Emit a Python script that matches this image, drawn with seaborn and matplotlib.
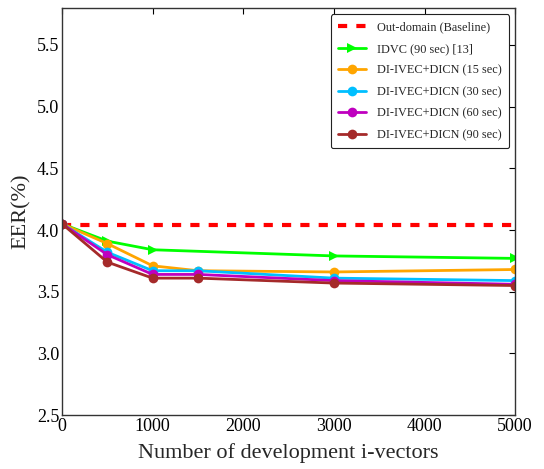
import matplotlib
matplotlib.use("Agg")
import matplotlib.pyplot as plt
import seaborn as sns
import pandas as pd

sns.set_theme(style="white")
plt.rcParams['font.family'] = ['Liberation Serif', 'DejaVu Serif']
plt.rcParams['mathtext.fontset'] = 'stix'

x_vals = [0, 500, 1000, 1500, 3000, 5000]
x_idvc = [0, 500, 1000, 3000, 5000]
baseline_x = [0, 5000]
baseline = [4.04, 4.04]
idvc_90 = [4.05, 3.91, 3.84, 3.79, 3.77]
dicn_15 = [4.05, 3.89, 3.71, 3.67, 3.66, 3.68]
dicn_30 = [4.05, 3.82, 3.67, 3.67, 3.61, 3.59]
dicn_60 = [4.05, 3.80, 3.64, 3.64, 3.59, 3.56]
dicn_90 = [4.05, 3.74, 3.61, 3.61, 3.57, 3.55]

labels = ["Out-domain (Baseline)", "IDVC (90 sec) [13]",
          "DI-IVEC+DICN (15 sec)", "DI-IVEC+DICN (30 sec)",
          "DI-IVEC+DICN (60 sec)", "DI-IVEC+DICN (90 sec)"]

fig = plt.figure(figsize=(5.44, 4.69), dpi=100)
ax = fig.add_axes([0.114, 0.115, 0.833, 0.868])

sns.lineplot(x=baseline_x, y=baseline, ax=ax, color="#ff0000", linestyle=(0, (2.2, 2.2)),
             linewidth=3, label=labels[0])
sns.lineplot(x=x_idvc, y=idvc_90, ax=ax, color="#00ff00", marker=">", markersize=7,
             markeredgewidth=0, linewidth=2, label=labels[1])
for ys, col, lab in [(dicn_15, "#ffa500", labels[2]), (dicn_30, "#00bfff", labels[3]),
                     (dicn_60, "#bf00bf", labels[4]), (dicn_90, "#a52a2a", labels[5])]:
    sns.lineplot(x=x_vals, y=ys, ax=ax, color=col, marker="o", markersize=7,
                 markeredgewidth=0, linewidth=2, label=lab)

ax.set_xlim(0, 5000)
ax.set_ylim(2.5, 5.8)
ax.set_xticks([0, 1000, 2000, 3000, 4000, 5000])
ax.set_yticks([2.5, 3.0, 3.5, 4.0, 4.5, 5.0, 5.5])
ax.tick_params(direction="in", top=True, right=True, length=4, width=0.8,
               labelsize=13, pad=2, colors="black")
for s in ax.spines.values():
    s.set_color("#333333")
    s.set_linewidth(1.0)
ax.set_xlabel("Number of development i-vectors", fontsize=16, labelpad=6)
ax.set_ylabel("EER(%)", fontsize=16, labelpad=4)

leg = ax.legend(loc="upper right", fontsize=8.8, frameon=True, fancybox=True,
                edgecolor="#222222", framealpha=1, handlelength=2.3,
                borderaxespad=0.5, labelspacing=0.78, borderpad=0.6,
                handletextpad=0.9)
leg.get_frame().set_linewidth(0.8)

fig.savefig("out.png", dpi=100)
